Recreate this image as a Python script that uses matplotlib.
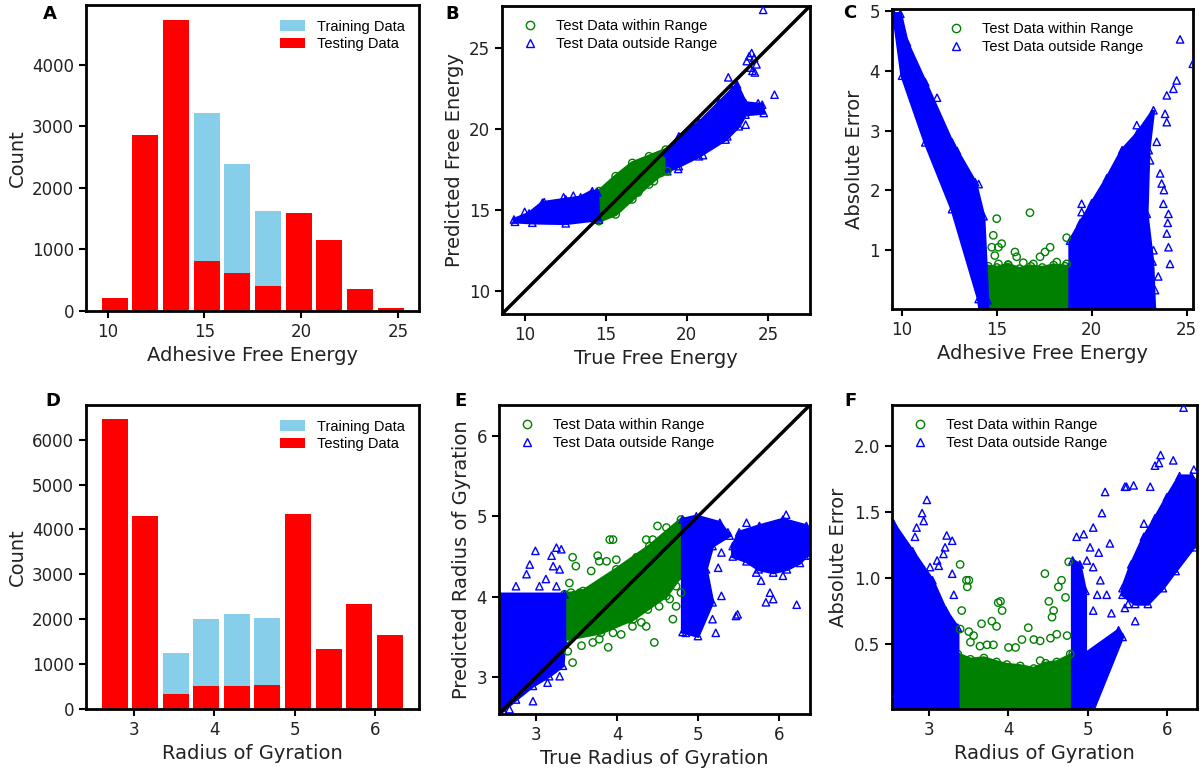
import numpy as np
import matplotlib
matplotlib.use('Agg')
import matplotlib.pyplot as plt
from matplotlib.lines import Line2D

plt.rcParams['font.family'] = ['DejaVu Sans']
TXT = '#222222'
LEG_FONT = ['Liberation Sans', 'DejaVu Sans']

# ---- histogram counts ----
afe_edges = [9.57, 11.15, 12.74, 14.32, 15.90, 17.49, 19.07, 20.66, 22.24, 23.82, 25.41]
afe_train = [0, 0, 0, 3220, 2390, 1630, 0, 0, 0, 0]
afe_test = [215, 2855, 4730, 805, 610, 400, 1585, 1160, 350, 45]

rg_edges = [2.566, 2.947, 3.328, 3.709, 4.090, 4.471, 4.852, 5.233, 5.614, 5.995, 6.376]
rg_train = [0, 0, 1250, 2000, 2110, 2020, 0, 0, 0, 0]
rg_test = [6450, 4305, 330, 505, 505, 535, 4345, 1340, 2350, 1640]

# ---- B: predicted vs true free energy ----
b_in_x = [14.58, 15.61, 16.64, 17.67, 18.70, 18.80, 17.67, 16.64, 15.61, 14.58]
b_in_y = [16.18, 17.10, 17.92, 18.33, 18.74, 17.51, 16.59, 15.67, 14.74, 14.33]
b_in_pts_x = [15.75, 18.8, 17.97, 16.43, 15.5, 17.2, 15.2, 16.0, 17.0, 18.4]
b_in_pts_y = [16.9, 17.41, 16.79, 15.66, 16.3, 17.6, 16.4, 16.2, 16.1, 17.3]
b_lo_x = [9.34, 10.27, 11.09, 12.53, 13.45, 14.17, 14.48, 14.58, 12.53, 10.47, 9.40]
b_lo_y = [14.43, 14.80, 15.46, 15.67, 15.80, 16.18, 16.11, 14.43, 14.19, 14.23, 14.29]
b_hi_x = [18.80, 18.80, 19.51, 20.75, 21.98, 22.80, 23.10, 23.62, 24.65, 24.75,
          23.62, 23.21, 22.39, 20.75, 19.51]
b_hi_y = [17.41, 18.54, 19.56, 20.39, 21.62, 22.44, 22.75, 21.62, 21.51, 21.00,
          20.90, 20.18, 19.36, 18.33, 17.72]
b_out_pts_x = [24.71, 22.56, 25.41, 23.63, 22.5, 19.47, 23.7, 23.85, 24.0, 24.15,
               24.3, 24.05, 23.9, 24.2, 10.0, 11.2, 12.4, 13.0, 24.4, 21.0]
b_out_pts_y = [27.36, 23.2, 22.13, 20.28, 19.56, 17.55, 24.2, 24.5, 24.7, 24.4,
               24.0, 23.6, 23.8, 23.5, 14.9, 15.5, 15.8, 15.9, 21.6, 18.4]
b_lim = (8.6, 27.6)

# ---- C: absolute error vs free energy ----
c_in_x = [14.56, 14.56, 15.0, 15.6, 16.2, 16.8, 17.4, 18.0, 18.6, 18.86, 18.86]
c_in_y = [0.0, 0.72, 0.70, 0.75, 0.68, 0.72, 0.70, 0.74, 0.72, 0.70, 0.0]
c_in_pts_x = [15.0, 16.75, 14.82, 14.74, 15.09, 15.26, 15.96, 16.05, 17.81, 17.54,
              17.28, 18.68, 18.16, 15.09, 18.68, 15.61, 16.93, 14.9, 16.4]
c_in_pts_y = [1.52, 1.62, 1.24, 1.04, 1.04, 1.10, 0.96, 0.88, 1.04, 0.96,
              0.88, 1.20, 0.79, 0.76, 0.76, 0.74, 0.76, 0.90, 0.78]
c_lo_x = [9.58, 10.02, 11.24, 12.65, 14.05, 14.12, 14.52, 14.52, 14.31, 13.87,
          12.65, 11.24, 10.28, 9.93]
c_lo_y = [4.96, 3.92, 2.80, 1.68, 0.17, 0.0, 0.0, 0.15, 1.56, 2.13,
          2.80, 3.81, 4.48, 4.96]
c_hi_x = [18.86, 18.86, 19.4, 20.0, 20.8, 21.6, 22.4, 23.25, 23.0, 22.9, 23.2, 23.3]
c_hi_y = [0.0, 1.15, 1.45, 1.78, 2.2, 2.67, 2.95, 3.34, 2.67, 1.6, 0.8, 0.0]
c_out_pts_x = [24.65, 25.32, 24.47, 24.3, 23.95, 23.86, 23.95, 22.37, 23.42, 23.07,
               23.6, 23.68, 23.77, 24.04, 23.95, 24.04, 24.12, 22.8, 23.25, 22.19,
               22.54, 19.47, 19.47, 22.9, 23.33, 20.6, 22.02, 20.8, 10.8, 11.86,
               12.12, 12.91, 14.05, 10.2, 23.5, 24.0, 23.8]
c_out_pts_y = [4.53, 4.12, 3.84, 3.70, 3.59, 3.28, 3.14, 3.09, 2.81, 2.50,
               2.28, 2.11, 1.77, 1.60, 1.27, 1.04, 0.76, 1.02, 0.99, 0.99,
               1.83, 1.77, 1.63, 0.65, 0.32, 2.00, 1.32, 2.10, 4.06, 3.55,
               3.11, 2.66, 2.10, 4.50, 0.55, 1.45, 2.0]
c_xlim = (9.49, 25.33)
c_ylim = (0.003, 5.04)

# ---- E: predicted vs true radius of gyration ----
e_in_x = [3.35, 3.58, 3.99, 4.40, 4.79, 4.79, 4.61, 4.20, 3.80, 3.37]
e_in_y = [4.03, 4.07, 4.34, 4.63, 4.96, 4.26, 4.01, 3.72, 3.55, 3.47]
e_in_pts_x = [3.45, 3.49, 3.41, 3.43, 3.54, 3.68, 3.78, 3.87, 3.99, 3.91, 3.95, 3.76,
              4.24, 4.36, 4.44, 4.50, 4.61, 4.48, 4.65, 4.73, 4.57, 4.52, 4.69, 4.73,
              4.46, 4.38, 4.36, 4.19, 4.05, 3.89, 3.70, 3.56, 3.45, 3.39, 3.78, 3.95,
              4.15, 4.30, 4.65, 4.79, 4.67, 4.73]
e_in_pts_y = [4.49, 4.38, 4.17, 4.05, 4.05, 4.32, 4.44, 4.44, 4.46, 4.71, 4.71, 4.51,
              4.49, 4.71, 4.71, 4.88, 4.86, 4.30, 4.22, 4.13, 4.05, 3.88, 3.72, 3.88,
              3.43, 3.84, 3.63, 3.63, 3.53, 3.37, 3.43, 3.39, 3.18, 3.32, 3.47, 3.55,
              3.72, 3.68, 3.97, 4.05, 4.46, 4.38]
e_lo_x = [2.54, 3.35, 3.35, 3.33, 3.16, 2.96, 2.75, 2.59, 2.54]
e_lo_y = [4.03, 4.03, 3.43, 3.14, 3.01, 2.89, 2.72, 2.58, 2.55]
e_mid_x = [4.81, 4.98, 5.27, 5.39, 5.18, 5.10, 5.18, 5.00, 4.81]
e_mid_y = [4.96, 5.00, 4.92, 4.76, 4.63, 4.34, 3.93, 3.51, 3.56]
e_hi_x = [5.43, 5.51, 5.76, 6.05, 6.34, 6.38, 6.38, 6.26, 6.10, 5.93, 5.75, 5.60, 5.43]
e_hi_y = [4.63, 4.80, 4.88, 4.96, 4.88, 4.76, 4.55, 4.42, 4.34, 4.30, 4.34, 4.44, 4.50]
e_out_pts_x = [2.99, 2.92, 2.88, 3.25, 3.31, 3.19, 3.12, 3.29, 3.21, 3.25, 3.04, 2.75,
               2.96, 3.14, 3.29, 2.67, 4.85, 5.22, 5.18, 5.29, 5.25, 5.29, 5.47, 5.49,
               5.37, 5.60, 6.09, 5.78, 5.89, 5.93, 6.22, 5.84, 6.05, 6.24, 6.32, 5.72]
e_out_pts_y = [4.57, 4.40, 4.28, 4.61, 4.59, 4.51, 4.22, 4.34, 4.38, 4.13, 4.13, 4.13,
               2.70, 2.93, 3.01, 2.60, 3.55, 3.55, 3.72, 4.01, 4.36, 4.55, 3.76, 3.78,
               4.80, 4.92, 5.02, 4.20, 4.05, 3.97, 3.90, 3.93, 4.26, 4.51, 4.51, 4.30]
e_lim = (2.54, 6.385)

# ---- F: absolute error vs radius of gyration ----
f_in_x = [3.36, 3.36, 3.52, 3.69, 3.85, 3.98, 4.15, 4.32, 4.47, 4.61, 4.81, 4.81]
f_in_y = [0.0, 0.42, 0.38, 0.39, 0.36, 0.34, 0.33, 0.31, 0.35, 0.36, 0.42, 0.0]
f_in_pts_x = [3.39, 3.50, 3.48, 3.47, 3.41, 3.39, 3.50, 3.52, 3.56, 3.66, 3.79, 3.85,
              3.90, 3.92, 3.87, 3.81, 3.73, 3.64, 4.00, 4.09, 4.17, 4.25, 4.32, 4.40,
              4.46, 4.51, 4.55, 4.57, 4.63, 4.67, 4.72, 4.76, 4.74, 4.78, 4.61, 4.53, 4.40]
f_in_pts_y = [1.10, 0.98, 0.93, 0.98, 0.75, 0.61, 0.59, 0.51, 0.56, 0.65, 0.67, 0.63,
              0.82, 0.75, 0.81, 0.49, 0.49, 0.48, 0.47, 0.47, 0.53, 0.62, 0.53, 0.52,
              1.03, 0.82, 0.70, 0.75, 0.93, 0.98, 0.85, 1.12, 0.56, 0.42, 0.57, 0.54, 0.37]
f_lo_x = [2.53, 2.55, 2.79, 3.04, 3.21, 3.36, 3.36, 2.53]
f_lo_y = [1.41, 1.41, 1.20, 0.98, 0.75, 0.62, 0.0, 0.0]
f_mid_x = [4.81, 4.81, 4.90, 4.97, 4.97, 5.39, 5.44, 5.07]
f_mid_y = [0.0, 1.13, 1.10, 0.90, 0.42, 0.60, 0.55, 0.0]
f_hi_x = [5.44, 5.60, 5.76, 5.95, 6.11, 6.34, 6.38, 6.38, 6.31, 6.16, 6.00, 5.85, 5.71,
          5.55, 5.44]
f_hi_y = [0.87, 0.80, 0.80, 0.92, 1.05, 1.23, 1.30, 1.72, 1.77, 1.77, 1.61, 1.45, 1.31,
          1.10, 0.92]
f_out_pts_x = [2.97, 2.91, 2.93, 2.84, 2.82, 3.22, 3.29, 3.20, 3.18, 3.12, 3.29, 3.31,
               3.10, 3.01, 2.72, 2.59, 2.61, 2.97, 2.84, 4.86, 4.95, 5.07, 5.03, 5.14,
               4.99, 5.07, 5.16, 5.12, 5.07, 5.24, 5.30, 5.22, 5.18, 5.28, 5.47, 5.49,
               5.92, 5.90, 5.85, 6.08, 6.21, 6.34, 5.79, 5.71, 5.58, 5.47, 5.60, 5.51, 6.08]
f_out_pts_y = [1.59, 1.49, 1.43, 1.38, 1.31, 1.32, 1.28, 1.23, 1.18, 1.09, 1.03, 0.87,
               1.13, 1.08, 0.24, 0.12, 0.07, 0.05, 0.14, 1.31, 1.33, 1.38, 1.23, 1.19,
               1.13, 1.08, 0.98, 0.87, 0.75, 0.87, 0.73, 1.65, 1.49, 1.26, 1.69, 1.69,
               1.93, 1.87, 1.85, 1.89, 2.29, 1.82, 1.69, 1.41, 1.70, 0.77, 0.67, 0.80, 1.07]
f_xlim = (2.53, 6.38)
f_ylim = (0.003, 2.31)

GREEN = 'green'
BLUE = 'blue'

W, H = 1204, 769
fig = plt.figure(figsize=(W / 100, H / 100), dpi=100)


def box(x0, y0, x1, y1):
    return fig.add_axes([x0 / W, 1 - y1 / H, (x1 - x0) / W, (y1 - y0) / H])


def style(ax, xlabel, ylabel):
    ax.set_xlabel(xlabel, fontsize=14, color=TXT)
    ax.set_ylabel(ylabel, fontsize=14, color=TXT)
    ax.tick_params(labelsize=12, labelcolor=TXT, length=5, width=1.5, direction='out')
    for s in ax.spines.values():
        s.set_linewidth(2)


def hist_panel(ax, edges, train, test, xlim, xticks, xlabel):
    edges = np.asarray(edges)
    centers = (edges[:-1] + edges[1:]) / 2
    w = np.diff(edges) * 0.85
    ax.bar(centers, train, width=w, color='skyblue', label='Training Data')
    ax.bar(centers, test, width=w, color='red', label='Testing Data')
    ax.set_xlim(*xlim)
    ax.set_xticks(xticks)
    style(ax, xlabel, 'Count')
    ax.legend(loc='upper right', frameon=False, prop={'family': LEG_FONT, 'size': 10.5},
              labelspacing=0.25, handlelength=1.7, borderaxespad=0.6)


def cloud(ax, xs, ys, color, marker):
    ax.fill(xs, ys, color=color, lw=2.5, zorder=2)
    ax.scatter(xs, ys, marker=marker, facecolors='none', edgecolors=color, s=28,
               lw=1, zorder=2)


def points(ax, xs, ys, color, marker):
    ax.scatter(xs, ys, marker=marker, facecolors='none', edgecolors=color, s=28,
               lw=1, zorder=3)


def scatter_legend(ax, loc):
    handles = [
        Line2D([], [], ls='none', marker='o', mfc='none', mec=GREEN, ms=6),
        Line2D([], [], ls='none', marker='^', mfc='none', mec=BLUE, ms=6),
    ]
    ax.legend(handles, ['Test Data within Range', 'Test Data outside Range'], loc=loc,
              frameon=False, prop={'family': LEG_FONT, 'size': 10.5}, labelspacing=0.25)


# A
ax = box(86, 5, 419, 311)
hist_panel(ax, afe_edges, afe_train, afe_test, (8.88, 26.08), [10, 15, 20, 25],
           'Adhesive Free Energy')

# D
ax = box(86, 405, 419, 709)
hist_panel(ax, rg_edges, rg_train, rg_test, (2.40, 6.55), [3, 4, 5, 6],
           'Radius of Gyration')

# B
ax = box(502, 6, 810, 314)
cloud(ax, b_in_x, b_in_y, GREEN, 'o')
points(ax, b_in_pts_x, b_in_pts_y, GREEN, 'o')
cloud(ax, b_lo_x, b_lo_y, BLUE, '^')
cloud(ax, b_hi_x, b_hi_y, BLUE, '^')
points(ax, b_out_pts_x, b_out_pts_y, BLUE, '^')
ax.plot(b_lim, b_lim, color='black', lw=2.5, zorder=4)
ax.set_xlim(*b_lim)
ax.set_ylim(*b_lim)
ax.set_xticks([10, 15, 20, 25])
ax.set_yticks([10, 15, 20, 25])
style(ax, 'True Free Energy', 'Predicted Free Energy')
scatter_legend(ax, 'upper left')

# C
ax = box(892, 9, 1193, 309)
cloud(ax, c_in_x, c_in_y, GREEN, 'o')
points(ax, c_in_pts_x, c_in_pts_y, GREEN, 'o')
cloud(ax, c_lo_x, c_lo_y, BLUE, '^')
cloud(ax, c_hi_x, c_hi_y, BLUE, '^')
points(ax, c_out_pts_x, c_out_pts_y, BLUE, '^')
ax.set_xlim(*c_xlim)
ax.set_ylim(*c_ylim)
ax.set_xticks([10, 15, 20, 25])
ax.set_yticks([1, 2, 3, 4, 5])
style(ax, 'Adhesive Free Energy', 'Absolute Error')
scatter_legend(ax, 'upper center')

# E
ax = box(499, 405, 810, 714)
cloud(ax, e_in_x, e_in_y, GREEN, 'o')
points(ax, e_in_pts_x, e_in_pts_y, GREEN, 'o')
cloud(ax, e_lo_x, e_lo_y, BLUE, '^')
cloud(ax, e_mid_x, e_mid_y, BLUE, '^')
cloud(ax, e_hi_x, e_hi_y, BLUE, '^')
points(ax, e_out_pts_x, e_out_pts_y, BLUE, '^')
ax.plot(e_lim, e_lim, color='black', lw=2.5, zorder=4)
ax.set_xlim(*e_lim)
ax.set_ylim(*e_lim)
ax.set_xticks([3, 4, 5, 6])
ax.set_yticks([3, 4, 5, 6])
style(ax, 'True Radius of Gyration', 'Predicted Radius of Gyration')
scatter_legend(ax, 'upper left')

# F
ax = box(892, 405, 1197, 709)
cloud(ax, f_in_x, f_in_y, GREEN, 'o')
points(ax, f_in_pts_x, f_in_pts_y, GREEN, 'o')
cloud(ax, f_lo_x, f_lo_y, BLUE, '^')
cloud(ax, f_mid_x, f_mid_y, BLUE, '^')
cloud(ax, f_hi_x, f_hi_y, BLUE, '^')
points(ax, f_out_pts_x, f_out_pts_y, BLUE, '^')
ax.set_xlim(*f_xlim)
ax.set_ylim(*f_ylim)
ax.set_xticks([3, 4, 5, 6])
ax.set_yticks([0.5, 1.0, 1.5, 2.0])
style(ax, 'Radius of Gyration', 'Absolute Error')
scatter_legend(ax, 'upper left')

# panel letters
for letter, x, y in [('A', 50, 14), ('B', 452, 14), ('C', 850, 13),
                     ('D', 53, 401), ('E', 460, 401), ('F', 850, 401)]:
    fig.text(x / W, 1 - y / H, letter, fontsize=13, fontweight='bold',
             ha='center', va='center')

fig.savefig('out.png', dpi=100)
